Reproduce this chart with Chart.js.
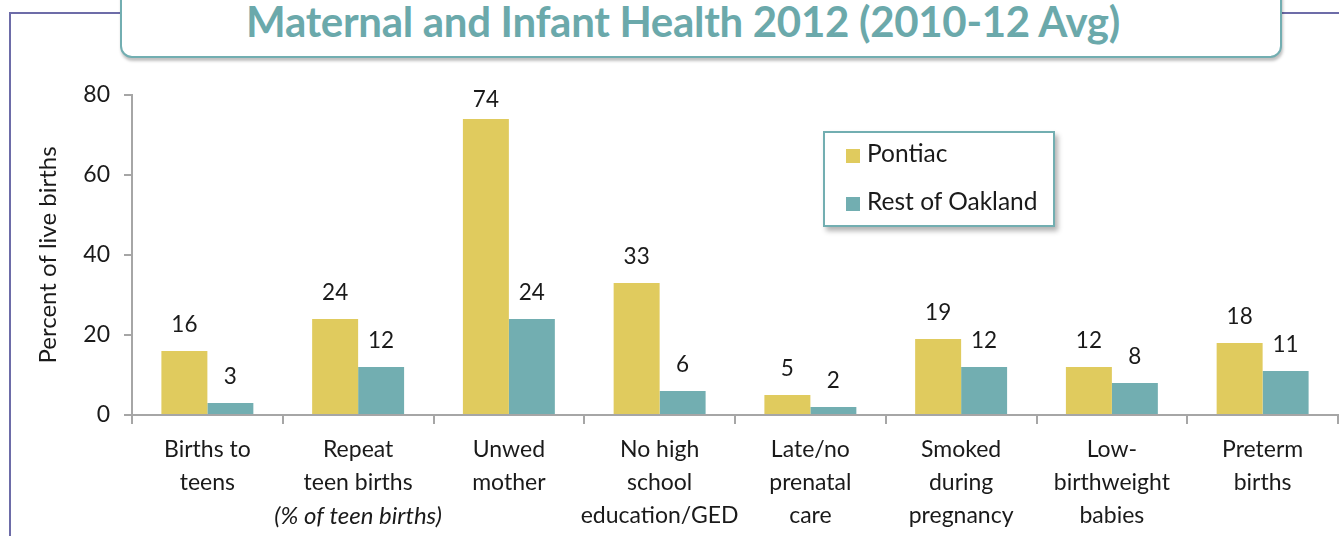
<!DOCTYPE html>
<html lang="en">
<head>
<meta charset="UTF-8">
<title>Maternal and Infant Health 2012</title>
<script src="https://cdn.jsdelivr.net/npm/chart.js"></script>
<style>
    body {
        margin: 0;
        width: 1339px;
        height: 536px;
        background: #fff;
        font-family: 'Lato', sans-serif;
        position: relative;
        overflow: hidden;
    }
    .frame-top {
        position: absolute; left: 10px; top: 12px; width: 1329px; height: 2px;
        background: #6d6ca8;
    }
    .frame-left {
        position: absolute; left: 9px; top: 12px; width: 2px; height: 530px;
        background: #6d6ca8;
    }
    #title-box {
        position: absolute; left: 120px; top: -20px; width: 1158px; height: 74px;
        background: #fff;
        border: 2px solid #72aeb1;
        border-radius: 12px;
        box-shadow: 1px 3px 3px rgba(0,0,0,0.25);
        text-align: center;
    }
    #title-box h1 {
        margin: 0;
        padding-top: 17px;
        padding-right: 36px;
        font-size: 42px;
        font-weight: bold;
        color: #6ba9ab;
        line-height: 44px;
        letter-spacing: -0.3px;
    }
    #chart-wrap {
        position: absolute; left: 0; top: 0; width: 1339px; height: 536px;
    }
    #legend {
        position: absolute; left: 823px; top: 131px; width: 228px; height: 92px;
        background: #fff;
        border: 2px solid #72aeb1;
        box-shadow: 3px 4px 5px rgba(0,0,0,0.3);
        font-size: 24.5px;
        color: #1a1a1a;
    }
    #legend div { position: absolute; left: 21px; height: 30px; line-height: 30px; white-space: nowrap; }
    #legend span { display: inline-block; width: 14px; height: 14px; margin-right: 7px; vertical-align: -1px; }
</style>
</head>
<body>
<div class="frame-top"></div>
<div class="frame-left"></div>
<div id="title-box"><h1>Maternal and Infant Health 2012 (2010-12 Avg)</h1></div>
<div id="chart-wrap"><canvas id="healthChart" width="1339" height="536"></canvas></div>
<div id="legend"></div>

<script>
    // values
    var categories = [
        ["Births to", "teens"],
        ["Repeat", "teen births"],
        ["Unwed", "mother"],
        ["No high", "school", "education/GED"],
        ["Late/no", "prenatal", "care"],
        ["Smoked", "during", "pregnancy"],
        ["Low-", "birthweight", "babies"],
        ["Preterm", "births"]
    ];
    var categoryNotes = ["", "(% of teen births)", "", "", "", "", "", ""];
    var seriesNames = ["Pontiac", "Rest of Oakland"];
    var pontiac = [16, 24, 74, 33, 5, 19, 12, 18];
    var restOfOakland = [3, 12, 24, 6, 2, 12, 8, 11];
    var yTicks = [0, 20, 40, 60, 80];
    var seriesColors = ["#e0cb5e", "#72aeb1"];

    // legend
    var legend = document.getElementById("legend");
    seriesNames.forEach(function (name, i) {
        var item = document.createElement("div");
        item.style.top = (i === 0 ? 5 : 53) + "px";
        item.innerHTML = '<span style="background:' + seriesColors[i] + '"></span>' + name;
        legend.appendChild(item);
    });

    var labelsPlugin = {
        id: "labelsPlugin",
        afterDatasetsDraw: function (chart) {
            var ctx = chart.ctx;
            ctx.save();
            ctx.fillStyle = "#1a1a1a";
            ctx.font = "22.5px Lato";
            ctx.textAlign = "center";
            ctx.textBaseline = "middle";
            chart.data.datasets.forEach(function (ds, di) {
                chart.getDatasetMeta(di).data.forEach(function (bar, i) {
                    var y = Math.max(bar.y - 26, chart.chartArea.top + 5);
                    ctx.fillText(ds.data[i], bar.x, y);
                });
            });
            // category labels under the x axis
            var xs = chart.scales.x;
            categories.forEach(function (lines, i) {
                var x = xs.getPixelForTick(i);
                var y = xs.top + 35;
                ctx.font = "23px Lato";
                lines.forEach(function (line) {
                    ctx.fillText(line, x, y);
                    y += 33;
                });
                if (categoryNotes[i]) {
                    ctx.font = "italic 24px Lato";
                    ctx.fillText(categoryNotes[i], x, y);
                }
            });
            ctx.restore();
        }
    };

    var ctx = document.getElementById("healthChart").getContext("2d");
    var chart = new Chart(ctx, {
        type: "bar",
        data: {
            labels: categories.map(function (c) { return c.join(" "); }),
            datasets: [
                { label: seriesNames[0], data: pontiac, backgroundColor: seriesColors[0] },
                { label: seriesNames[1], data: restOfOakland, backgroundColor: seriesColors[1] }
            ]
        },
        options: {
            responsive: false,
            animation: false,
            layout: { padding: { top: 95, right: 1, left: 0, bottom: 0 } },
            datasets: { bar: { categoryPercentage: 0.61, barPercentage: 1.0 } },
            plugins: {
                legend: { display: false },
                tooltip: { enabled: false }
            },
            scales: {
                x: {
                    afterFit: function (s) { s.height = 121; },
                    grid: { drawOnChartArea: false, tickLength: 9, color: "#a6a6a6", lineWidth: 2 },
                    border: { color: "#a6a6a6", width: 2 },
                    ticks: { display: false }
                },
                y: {
                    min: 0,
                    max: 80,
                    afterFit: function (s) { s.width = 132; },
                    afterBuildTicks: function (s) { s.ticks = yTicks.map(function (v) { return { value: v }; }); },
                    grid: { drawOnChartArea: false, tickLength: 8, color: "#a6a6a6", lineWidth: 2 },
                    border: { color: "#a6a6a6", width: 2 },
                    ticks: { padding: 14, color: "#1a1a1a", font: { family: "Lato", size: 23 } },
                    title: {
                        display: true,
                        text: "Percent of live births",
                        color: "#1a1a1a",
                        font: { family: "Lato", size: 24 },
                        padding: { top: 34, bottom: 0 }
                    }
                }
            }
        },
        plugins: [labelsPlugin]
    });
</script>
</body>
</html>
